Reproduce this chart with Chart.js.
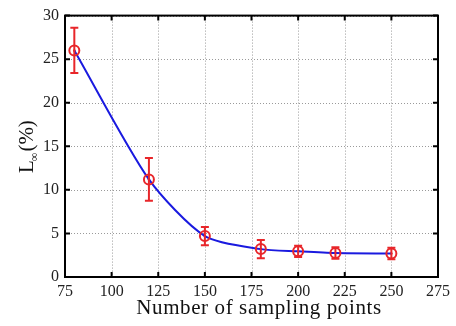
<!DOCTYPE html>
<html lang="en">
<head>
<meta charset="UTF-8">
<script src="https://cdn.jsdelivr.net/npm/chart.js"></script>
<title>L_inf vs sampling points</title>
<style>
  html, body { margin: 0; padding: 0; background: #fff; }
  #wrap { width: 456px; height: 326px; }
</style>
</head>
<body>
<div id="wrap"><canvas id="chart" width="456" height="326"></canvas></div>
<script>
// data
var samplingPoints = [80, 120, 150, 180, 200, 220, 250];
var errorPct = [26.0, 11.2, 4.7, 3.2, 2.95, 2.75, 2.7];
var errorBar = [2.6, 2.45, 1.05, 1.05, 0.65, 0.65, 0.65];
var xTicks = [75, 100, 125, 150, 175, 200, 225, 250, 275];
var yTicks = [0, 5, 10, 15, 20, 25, 30];

var serif = "'Liberation Serif', 'Times New Roman', serif";

// dotted grid, red error bars, inward ticks, box, titles
var extras = {
  id: 'extras',
  beforeDatasetsDraw: function(chart) {
    var ctx = chart.ctx;
    var a = chart.chartArea;
    var xs = chart.scales.x, ys = chart.scales.y;
    ctx.save();
    ctx.strokeStyle = '#9a9a9a';
    ctx.lineWidth = 1;
    ctx.setLineDash([1, 2]);
    ctx.beginPath();
    xTicks.forEach(function(v) {
      var p = Math.round(xs.getPixelForValue(v)) + 0.5;
      ctx.moveTo(p, a.top); ctx.lineTo(p, a.bottom);
    });
    yTicks.forEach(function(v) {
      var p = Math.round(ys.getPixelForValue(v)) + 0.5;
      ctx.moveTo(a.left, p); ctx.lineTo(a.right, p);
    });
    ctx.stroke();
    ctx.restore();
  },
  afterDatasetsDraw: function(chart) {
    var ctx = chart.ctx;
    var xs = chart.scales.x, ys = chart.scales.y;
    ctx.save();
    ctx.strokeStyle = '#e8262a';
    ctx.lineWidth = 2;
    for (var i = 0; i < samplingPoints.length; i++) {
      var px = xs.getPixelForValue(samplingPoints[i]);
      var top = ys.getPixelForValue(errorPct[i] + errorBar[i]);
      var bot = ys.getPixelForValue(errorPct[i] - errorBar[i]);
      ctx.beginPath();
      ctx.moveTo(px, top); ctx.lineTo(px, bot);
      ctx.moveTo(px - 4, top); ctx.lineTo(px + 4, top);
      ctx.moveTo(px - 4, bot); ctx.lineTo(px + 4, bot);
      ctx.stroke();
    }
    ctx.restore();
  },
  afterDraw: function(chart) {
    var ctx = chart.ctx;
    var a = chart.chartArea;
    var xs = chart.scales.x, ys = chart.scales.y;
    ctx.save();
    ctx.strokeStyle = '#000';
    ctx.lineWidth = 2;
    ctx.strokeRect(a.left, a.top, a.right - a.left, a.bottom - a.top);
    ctx.beginPath();
    xTicks.forEach(function(v) {
      var p = xs.getPixelForValue(v);
      ctx.moveTo(p, a.bottom); ctx.lineTo(p, a.bottom - 5);
      ctx.moveTo(p, a.top); ctx.lineTo(p, a.top + 5);
    });
    yTicks.forEach(function(v) {
      var p = ys.getPixelForValue(v);
      ctx.moveTo(a.left, p); ctx.lineTo(a.left + 5, p);
      ctx.moveTo(a.right, p); ctx.lineTo(a.right - 5, p);
    });
    ctx.stroke();

    // x title
    ctx.fillStyle = '#111';
    ctx.font = '21px ' + serif;
    ctx.letterSpacing = '0.6px';
    ctx.textAlign = 'center';
    ctx.textBaseline = 'alphabetic';
    ctx.fillText('Number of sampling points', 259, 314);

    // y title: L with subscript infinity, then (%)
    ctx.letterSpacing = '0px';
    ctx.translate(33, 173);
    ctx.rotate(-Math.PI / 2);
    ctx.textAlign = 'left';
    ctx.font = '21px ' + serif;
    var w1 = ctx.measureText('L').width;
    ctx.fillText('L', 0, 0);
    ctx.font = '12px ' + serif;
    var w2 = ctx.measureText('\u221E').width;
    ctx.fillText('\u221E', w1 - 1, 5);
    ctx.font = '21px ' + serif;
    ctx.fillText('(%)', w1 + w2, 0);
    ctx.restore();
  }
};

new Chart(document.getElementById('chart'), {
  type: 'line',
  data: {
    datasets: [{
      data: samplingPoints.map(function(x, i) { return { x: x, y: errorPct[i] }; }),
      borderColor: '#1a1adf',
      borderWidth: 2,
      tension: 0.25,
      pointRadius: 5,
      pointBorderWidth: 2,
      pointBorderColor: '#e8262a',
      pointBackgroundColor: 'rgba(255,255,255,0)',
      fill: false
    }, {
      // centre dots of the markers
      data: samplingPoints.map(function(x, i) { return { x: x, y: errorPct[i] }; }),
      showLine: false,
      pointRadius: 1.3,
      pointBorderWidth: 0,
      pointBackgroundColor: '#e8262a'
    }]
  },
  plugins: [extras],
  options: {
    responsive: false,
    animation: false,
    layout: { padding: { top: 12, right: 18, left: 0, bottom: 0 } },
    plugins: { legend: { display: false }, tooltip: { enabled: false } },
    scales: {
      x: {
        type: 'linear',
        min: 75, max: 275,
        afterBuildTicks: function(s) { s.ticks = xTicks.map(function(v) { return { value: v }; }); },
        afterFit: function(s) { s.height = 49; },
        grid: { display: false, drawTicks: false },
        border: { display: false },
        ticks: {
          color: '#222', padding: 5, maxRotation: 0,
          font: { family: serif, size: 16 }
        }
      },
      y: {
        min: 0, max: 30,
        afterBuildTicks: function(s) { s.ticks = yTicks.map(function(v) { return { value: v }; }); },
        afterFit: function(s) { s.width = 65; },
        grid: { display: false, drawTicks: false },
        border: { display: false },
        ticks: {
          color: '#222', padding: 6,
          font: { family: serif, size: 16 }
        }
      }
    }
  }
});
</script>
</body>
</html>
